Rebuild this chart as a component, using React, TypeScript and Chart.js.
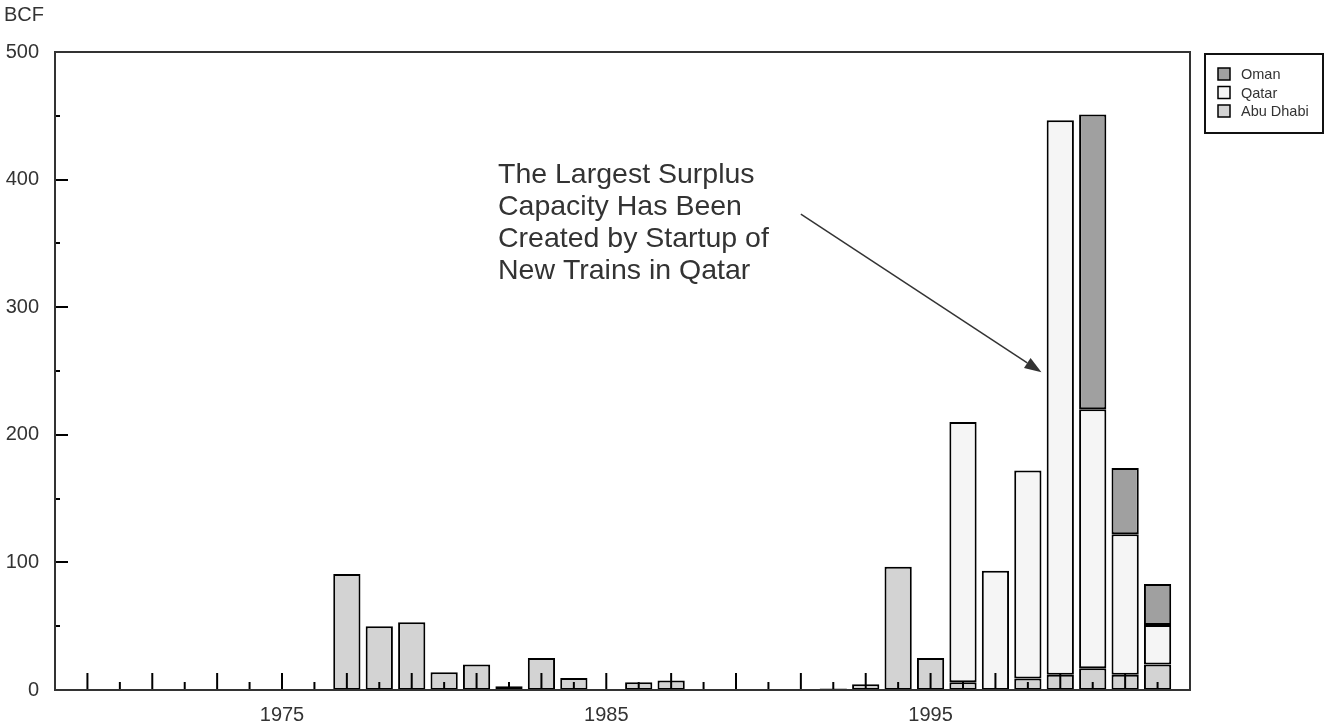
import React, { useEffect, useRef } from 'react';
import { Chart, registerables } from 'chart.js';

Chart.register(...registerables);

// Categories: one per year, axis runs 1968 .. 2003
const YEARS = [
  '1968', '1969', '1970', '1971', '1972', '1973', '1974', '1975', '1976', '1977',
  '1978', '1979', '1980', '1981', '1982', '1983', '1984', '1985', '1986', '1987',
  '1988', '1989', '1990', '1991', '1992', '1993', '1994', '1995', '1996', '1997',
  '1998', '1999', '2000', '2001', '2002', '2003',
];
const TICK_LABELS = ['1975', '1985', '1995'];

// BCF, stacked: Abu Dhabi (bottom), Qatar, Oman (top)
const ABU_DHABI = [
  null, null, null, null, null, null, null, null, null, 91,
  50, 53, 14, 20, 3, 25, 9.5, null, 6, 7.5,
  null, null, null, null, 1.2, 4.5, 96.5, 25, 6, 0,
  9, 12, 17, 12, 20, null,
];
const QATAR = [
  null, null, null, null, null, null, null, null, null, null,
  null, null, null, null, null, null, null, null, null, null,
  null, null, null, null, null, null, null, null, 204, 93.5,
  163, 434.5, 203, 110, 31, null,
];
const OMAN = [
  null, null, null, null, null, null, null, null, null, null,
  null, null, null, null, null, null, null, null, null, null,
  null, null, null, null, null, null, null, null, null, null,
  null, null, 231, 52, 32, null,
];

const SERIES_NAMES = ['Abu Dhabi', 'Qatar', 'Oman'];
const SERIES_COLORS = ['#d3d3d3', '#f5f5f5', '#a0a0a0'];

const Y_MIN = 0;
const Y_MAX = 500;
const Y_STEP = 100;

const ANNOTATION_LINES = [
  'The Largest Surplus',
  'Capacity Has Been',
  'Created by Startup of',
  'New Trains in Qatar',
];
// annotation anchored in data space (category index, BCF value)
const ANNOTATION_TEXT_AT = { x: 13.66, y: 397 };
const ARROW_FROM = { x: 23, y: 373 };
const ARROW_TO = { x: 30.42, y: 249 };

const FONT = '"Liberation Sans", Arial, Helvetica, sans-serif';
const TEXT_COLOR = '#333333';

const overlayPlugin = {
  id: 'overlay',
  afterDatasetsDraw(chart: any) {
    const { ctx, chartArea: a, scales } = chart;
    const xs = scales.x;
    const ys = scales.y;
    ctx.save();

    // inward tick marks on x axis
    ctx.strokeStyle = '#000';
    ctx.lineWidth = 2;
    YEARS.forEach((yr, i) => {
      if (i === 0 || i === YEARS.length - 1) return;
      const px = xs.getPixelForValue(i);
      const len = Number(yr) % 2 === 1 ? 17 : 8;
      ctx.beginPath();
      ctx.moveTo(px, a.bottom);
      ctx.lineTo(px, a.bottom - len);
      ctx.stroke();
    });

    // inward tick marks on y axis (major + minor halfway)
    const majors = ys.ticks.map((t: any) => t.value);
    majors.forEach((v: number, i: number) => {
      if (v > Y_MIN && v < Y_MAX) {
        const py = Math.round(ys.getPixelForValue(v));
        ctx.beginPath();
        ctx.moveTo(a.left, py);
        ctx.lineTo(a.left + 13, py);
        ctx.stroke();
      }
      if (i < majors.length - 1) {
        const mid = (v + majors[i + 1]) / 2;
        const py = Math.round(ys.getPixelForValue(mid));
        ctx.beginPath();
        ctx.moveTo(a.left, py);
        ctx.lineTo(a.left + 5, py);
        ctx.stroke();
      }
    });

    // frame
    ctx.strokeStyle = '#333';
    ctx.lineWidth = 2;
    ctx.strokeRect(a.left, a.top, a.right - a.left, a.bottom - a.top);

    // annotation text
    ctx.fillStyle = TEXT_COLOR;
    ctx.font = `28.5px ${FONT}`;
    ctx.textAlign = 'left';
    ctx.textBaseline = 'alphabetic';
    const tx = xs.getPixelForValue(ANNOTATION_TEXT_AT.x);
    const ty = ys.getPixelForValue(ANNOTATION_TEXT_AT.y);
    ANNOTATION_LINES.forEach((line, i) => {
      ctx.fillText(line, tx, ty + i * 32);
    });

    // arrow
    const x1 = xs.getPixelForValue(ARROW_FROM.x);
    const y1 = ys.getPixelForValue(ARROW_FROM.y);
    const x2 = xs.getPixelForValue(ARROW_TO.x);
    const y2 = ys.getPixelForValue(ARROW_TO.y);
    const ang = Math.atan2(y2 - y1, x2 - x1);
    const headLen = 17;
    const headHalf = 6;
    const bx = x2 - headLen * Math.cos(ang);
    const by = y2 - headLen * Math.sin(ang);
    ctx.strokeStyle = TEXT_COLOR;
    ctx.lineWidth = 1.5;
    ctx.beginPath();
    ctx.moveTo(x1, y1);
    ctx.lineTo(bx, by);
    ctx.stroke();
    ctx.fillStyle = TEXT_COLOR;
    ctx.beginPath();
    ctx.moveTo(x2, y2);
    ctx.lineTo(bx + headHalf * Math.sin(ang), by - headHalf * Math.cos(ang));
    ctx.lineTo(bx - headHalf * Math.sin(ang), by + headHalf * Math.cos(ang));
    ctx.closePath();
    ctx.fill();

    ctx.restore();
  },
  afterDraw(chart: any) {
    const { ctx, chartArea: a } = chart;
    ctx.save();
    // unit label
    ctx.fillStyle = TEXT_COLOR;
    ctx.font = `20px ${FONT}`;
    ctx.textAlign = 'left';
    ctx.textBaseline = 'top';
    ctx.fillText('BCF', 4, 5);

    // boxed legend, top item = top of stack
    const boxX = a.right + 15;
    const boxY = a.top + 2;
    const boxW = 118;
    const boxH = 79;
    ctx.strokeStyle = '#111';
    ctx.lineWidth = 2;
    ctx.strokeRect(boxX, boxY, boxW, boxH);
    ctx.font = `14.5px ${FONT}`;
    ctx.textBaseline = 'middle';
    const ds = chart.data.datasets.slice().reverse();
    ds.forEach((d: any, i: number) => {
      const cy = boxY + 20 + i * 18.5;
      ctx.fillStyle = d.backgroundColor;
      ctx.fillRect(boxX + 13, cy - 6, 12, 12);
      ctx.strokeStyle = '#000';
      ctx.lineWidth = 1.5;
      ctx.strokeRect(boxX + 13, cy - 6, 12, 12);
      ctx.fillStyle = TEXT_COLOR;
      ctx.fillText(d.label, boxX + 36, cy + 1);
    });
    ctx.restore();
  },
};

export default function App() {
  const canvasRef = useRef<HTMLCanvasElement | null>(null);

  useEffect(() => {
    document.body.style.margin = '0';
    const canvas = canvasRef.current;
    if (!canvas) return;
    const seriesData = [ABU_DHABI, QATAR, OMAN];
    const chart = new Chart(canvas, {
      type: 'bar',
      data: {
        labels: YEARS,
        datasets: seriesData.map((d, i) => ({
          label: SERIES_NAMES[i],
          data: d as any,
          backgroundColor: SERIES_COLORS[i],
          borderColor: '#000',
          borderWidth: 2,
          borderSkipped: false,
          barPercentage: 0.84,
          categoryPercentage: 1,
        })),
      },
      options: {
        animation: false,
        responsive: true,
        maintainAspectRatio: false,
        layout: { padding: { top: 52, right: 135, left: 0, bottom: 0 } },
        plugins: {
          legend: { display: false },
          tooltip: { enabled: false },
        },
        scales: {
          x: {
            type: 'category',
            stacked: true,
            offset: false,
            grid: { display: false, drawTicks: false },
            border: { display: false },
            ticks: {
              autoSkip: false,
              maxRotation: 0,
              minRotation: 0,
              padding: 13,
              color: TEXT_COLOR,
              font: { family: FONT, size: 20 },
              callback: (_v: any, idx: number) =>
                TICK_LABELS.includes(YEARS[idx]) ? YEARS[idx] : '',
            },
            afterFit: (s: any) => {
              s.height = 37;
            },
          },
          y: {
            stacked: true,
            min: Y_MIN,
            max: Y_MAX,
            grid: { display: false, drawTicks: false },
            border: { display: false },
            ticks: {
              stepSize: Y_STEP,
              padding: 16,
              color: TEXT_COLOR,
              font: { family: FONT, size: 20 },
            },
            afterFit: (s: any) => {
              s.width = 55;
            },
          },
        },
      },
      plugins: [overlayPlugin],
    });
    return () => chart.destroy();
  }, []);

  return (
    <div style={{ width: 1325, height: 727, position: 'relative' }}>
      <canvas ref={canvasRef} />
    </div>
  );
}
